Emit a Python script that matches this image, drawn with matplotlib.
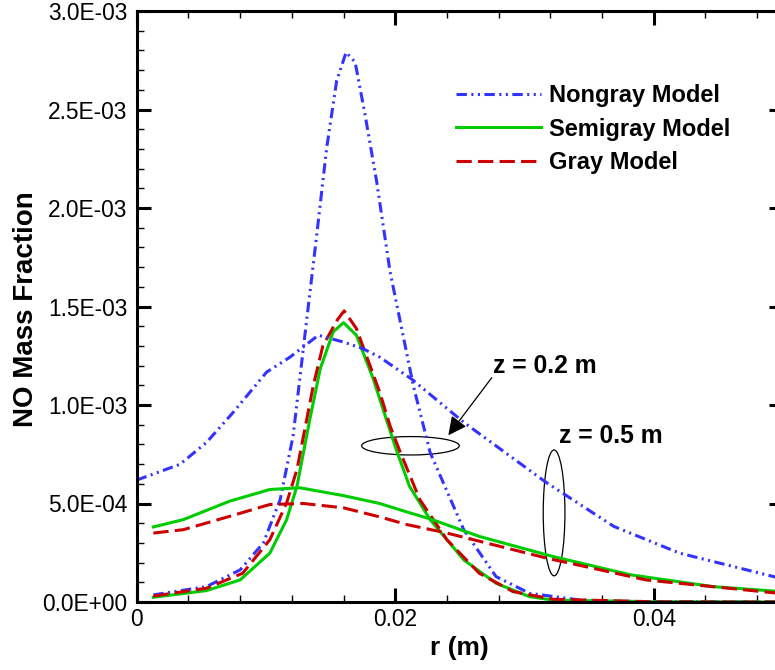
import numpy as np
import matplotlib
matplotlib.use('Agg')
import matplotlib.pyplot as plt
from matplotlib.patches import Ellipse

plt.rcParams['font.family'] = ['Liberation Sans', 'DejaVu Sans']
plt.rcParams['lines.scale_dashes'] = False

# ---- data (r in m, NO mass fraction) ----
# z = 0.2 m (narrow peaks)
r_ng_02 = [0.00129, 0.0054, 0.0080, 0.0098, 0.0111, 0.0121, 0.01295, 0.0139, 0.0147, 0.01547,
           0.0162, 0.0169, 0.01766, 0.01856, 0.0196, 0.0204, 0.0214, 0.0227, 0.0253, 0.0278,
           0.0304, 0.0343, 0.038, 0.050]
ng_02 = [0.036e-3, 0.078e-3, 0.163e-3, 0.30e-3, 0.52e-3, 0.843e-3, 1.32e-3, 1.847e-3, 2.306e-3, 2.646e-3,
         2.79e-3, 2.74e-3, 2.476e-3, 2.136e-3, 1.677e-3, 1.42e-3, 1.098e-3, 0.759e-3, 0.367e-3, 0.129e-3,
         0.044e-3, 0.010e-3, 0.003e-3, 0.0]

r_sg_02 = [0.00129, 0.0054, 0.0080, 0.0103, 0.0116, 0.0124, 0.0134, 0.0142, 0.0152, 0.0160,
           0.0170, 0.0183, 0.0192, 0.0201, 0.0211, 0.0227, 0.0253, 0.0278, 0.0304, 0.0322,
           0.040, 0.050]
sg_02 = [0.024e-3, 0.058e-3, 0.112e-3, 0.248e-3, 0.418e-3, 0.588e-3, 0.929e-3, 1.184e-3, 1.371e-3, 1.418e-3,
         1.354e-3, 1.133e-3, 0.95e-3, 0.77e-3, 0.588e-3, 0.418e-3, 0.214e-3, 0.095e-3, 0.027e-3, 0.010e-3,
         0.001e-3, 0.0]

r_g_02 = [0.00129, 0.0054, 0.0082, 0.0103, 0.0116, 0.0124, 0.01366, 0.0144, 0.0155, 0.01605,
          0.0170, 0.01805, 0.0188, 0.0196, 0.0204, 0.0219, 0.0240, 0.0265, 0.0291, 0.0322,
          0.040, 0.050]
g_02 = [0.030e-3, 0.070e-3, 0.146e-3, 0.316e-3, 0.503e-3, 0.673e-3, 1.098e-3, 1.30e-3, 1.43e-3, 1.478e-3,
        1.388e-3, 1.20e-3, 1.065e-3, 0.894e-3, 0.759e-3, 0.52e-3, 0.316e-3, 0.146e-3, 0.053e-3, 0.014e-3,
        0.001e-3, 0.0]

# z = 0.5 m (broad profiles)
r_ng_05 = [0.0, 0.00335, 0.0054, 0.00747, 0.01005, 0.01186, 0.01405, 0.01598, 0.0175, 0.0188,
           0.0213, 0.0253, 0.0317, 0.0369, 0.0420, 0.050]
ng_05 = [0.619e-3, 0.699e-3, 0.81e-3, 0.963e-3, 1.167e-3, 1.243e-3, 1.354e-3, 1.32e-3, 1.286e-3, 1.243e-3,
         1.13e-3, 0.912e-3, 0.606e-3, 0.384e-3, 0.248e-3, 0.117e-3]

r_sg_05 = [0.00129, 0.0036, 0.0072, 0.0103, 0.0126, 0.0160, 0.0188, 0.0209, 0.0227, 0.0265,
           0.0322, 0.0382, 0.0446, 0.050]
sg_05 = [0.381e-3, 0.418e-3, 0.512e-3, 0.571e-3, 0.580e-3, 0.540e-3, 0.500e-3, 0.457e-3, 0.422e-3, 0.333e-3,
         0.231e-3, 0.138e-3, 0.078e-3, 0.052e-3]

r_g_05 = [0.00129, 0.0036, 0.0072, 0.0103, 0.0129, 0.0160, 0.0188, 0.0209, 0.0240, 0.0317,
          0.0394, 0.050]
g_05 = [0.350e-3, 0.367e-3, 0.435e-3, 0.495e-3, 0.500e-3, 0.478e-3, 0.432e-3, 0.393e-3, 0.350e-3, 0.223e-3,
        0.112e-3, 0.042e-3]

labels = ['Nongray Model', 'Semigray Model', 'Gray Model']
colors = ['#3333ff', '#00cc00', '#cc0000']
x_ticks = [0, 0.02, 0.04]
x_ticklabels = ['0', '0.02', '0.04']

fig = plt.figure(figsize=(7.75, 6.7), dpi=100)
ax = fig.add_axes([136.7 / 775, 68 / 670, (783 - 136.7) / 775, (602 - 11) / 670])

ls_ng = (0, (7.5, 3.2, 1.5, 3.2, 1.5, 3.2))
ls_g = (0, (11, 4.5))
lw = 2.2

ax.plot(r_ng_02, ng_02, color=colors[0], lw=lw, ls=ls_ng, label=labels[0])
ax.plot(r_sg_02, sg_02, color=colors[1], lw=lw, label=labels[1])
ax.plot(r_g_02, g_02, color=colors[2], lw=lw, ls=ls_g, label=labels[2])
ax.plot(r_ng_05, ng_05, color=colors[0], lw=lw, ls=ls_ng)
ax.plot(r_sg_05, sg_05, color=colors[1], lw=lw)
ax.plot(r_g_05, g_05, color=colors[2], lw=lw, ls=ls_g)

ax.set_xlim(0, 0.05)
ax.set_ylim(0, 3.0e-3)
ax.set_xticks(x_ticks)
ax.set_xticklabels(x_ticklabels)
ax.set_xticks(np.arange(0, 0.0501, 0.004), minor=True)
ax.set_yticks(np.arange(0, 3.01e-3, 0.5e-3))
ax.set_yticklabels(['%.1E' % v for v in np.arange(0, 3.01e-3, 0.5e-3)])
ax.set_yticks(np.arange(0, 3.01e-3, 0.1e-3), minor=True)

ax.tick_params(which='both', direction='in', top=True, right=True, labelsize=16.4)
ax.tick_params(axis='x', pad=4.5)
ax.tick_params(axis='y', pad=6.5)
ax.tick_params(which='major', length=10, width=2.2)
ax.tick_params(which='minor', length=5, width=1.0)
for s in ax.spines.values():
    s.set_linewidth(2.2)

ax.set_xlabel('r (m)', fontsize=19, fontweight='bold')
ax.set_ylabel('NO Mass Fraction', fontsize=20, fontweight='bold')
ax.xaxis.set_label_coords(0.5, (602 - 636) / 591)
ax.yaxis.set_label_coords((39 - 136.7) / 646.3, 0.496)

# annotations
ax.add_patch(Ellipse((0.02118, 0.793e-3), 0.00755, 0.0934e-3, fill=False, lw=0.9, color='k'))
ax.add_patch(Ellipse((0.03229, 0.4525e-3), 0.00168, 0.639e-3, fill=False, lw=0.9, color='k'))
ax.annotate('', xy=(0.02398, 0.835e-3), xytext=(0.0276, 1.15e-3),
            arrowprops=dict(arrowstyle='-|>', color='k', lw=0.9, mutation_scale=28))
ax.text(0.02756, 1.2e-3, 'z = 0.2 m', fontsize=17.8, fontweight='bold', va='center', ha='left')
ax.text(0.03265, 0.842e-3, 'z = 0.5 m', fontsize=17.8, fontweight='bold', va='center', ha='left')

leg = ax.legend(loc='upper left', bbox_to_anchor=(456 / 775, 1 - 84 / 670), bbox_transform=fig.transFigure,
                frameon=False, borderpad=0, borderaxespad=0, handlelength=3.6, handletextpad=0.35,
                labelspacing=0.45, prop={'size': 17, 'weight': 'bold'})

fig.savefig('out.png', dpi=100)
